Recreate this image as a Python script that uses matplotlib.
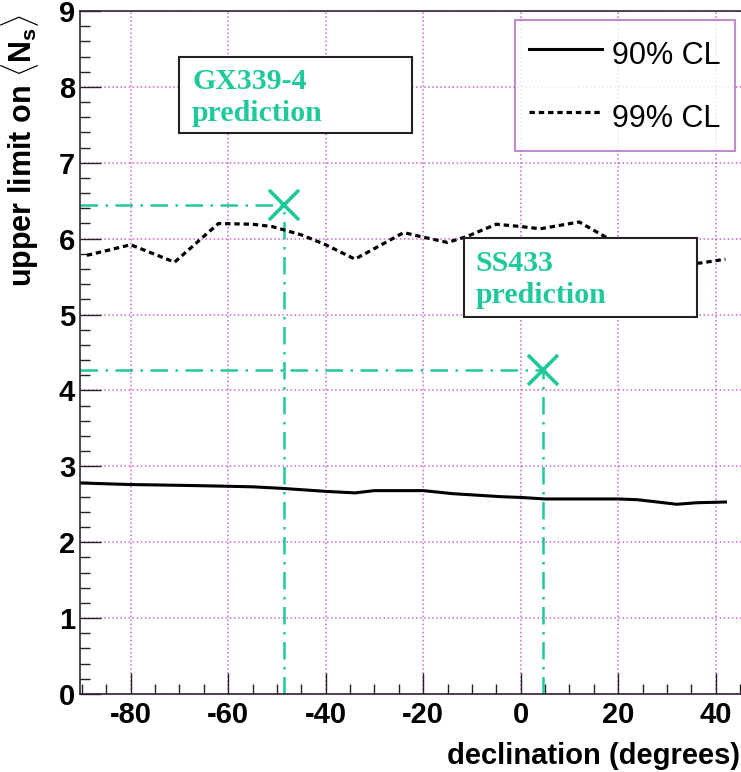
import matplotlib
matplotlib.use("Agg")
import matplotlib.pyplot as plt
from matplotlib.ticker import MultipleLocator
from matplotlib.patches import Rectangle

plt.rcParams["axes.unicode_minus"] = False
plt.rcParams["mathtext.fontset"] = "custom"
plt.rcParams["mathtext.rm"] = "Liberation Sans"
plt.rcParams["mathtext.bf"] = "Liberation Sans:bold"

# upper limits vs declination
decl_90 = [-90, -80, -70, -62, -55, -49, -40, -34, -30, -20, -14, -4, 0, 5, 12, 20, 24, 28, 32, 36, 42]
ul_90 = [2.78, 2.76, 2.75, 2.74, 2.73, 2.71, 2.67, 2.65, 2.68, 2.68, 2.64, 2.60, 2.59, 2.57, 2.57, 2.57,
         2.56, 2.53, 2.50, 2.52, 2.53]

decl_99 = [-89, -80, -71, -62, -55, -51, -45, -40, -34, -24, -20, -15, -11, -5, 0, 4, 12, 18, 22, 28, 33, 37, 42]
ul_99 = [5.78, 5.92, 5.69, 6.20, 6.19, 6.16, 6.05, 5.92, 5.73, 6.08, 6.02, 5.95, 6.03, 6.19, 6.16, 6.13,
         6.22, 6.00, 5.85, 5.72, 5.66, 5.68, 5.73]

# source predictions
src_names = ["GX339-4", "SS433"]
src_decl = [-48.6, 4.6]
src_pred = [6.45, 4.27]

teal = "#1fc99b"
grid_col = "#cc66cc"

fig = plt.figure(figsize=(7.41, 7.72), dpi=100)
ax = fig.add_axes([80 / 741, 78 / 772, 667.4 / 741, 683 / 772])

ax.plot(decl_90, ul_90, color="black", lw=2.2, label="90% CL", zorder=3)
ax.plot(decl_99, ul_99, color="black", lw=2.3, linestyle=(0, (1.7, 1.2)), label="99% CL", zorder=3)

for d, p in zip(src_decl, src_pred):
    ax.plot([-90.4, d], [p, p], color=teal, lw=1.8, linestyle=(0, (7, 3, 1, 3)), zorder=2)
    ax.plot([d, d], [0, p], color=teal, lw=1.8, linestyle=(0, (7, 3, 1, 3)), zorder=2)
    ax.plot(d, p, marker="x", color=teal, markersize=22, mew=2.6, zorder=4)

ax.set_xlim(-90.4, 46.5)
ax.set_ylim(0, 9)
ax.xaxis.set_major_locator(MultipleLocator(20))
ax.xaxis.set_minor_locator(MultipleLocator(5))
ax.yaxis.set_major_locator(MultipleLocator(1))
ax.yaxis.set_minor_locator(MultipleLocator(0.2))
ax.grid(True, which="major", color=grid_col, linestyle=":", lw=1.1)
ax.tick_params(axis="both", which="both", direction="in", colors="#222222")
ax.tick_params(axis="both", which="major", length=15, width=1)
ax.tick_params(axis="both", which="minor", length=7.5, width=1)
ax.tick_params(axis="x", which="major", pad=5)
ax.tick_params(axis="y", which="major", pad=3.5)
for lab in ax.get_xticklabels() + ax.get_yticklabels():
    lab.set_fontfamily("Liberation Sans")
    lab.set_fontweight("bold")
    lab.set_fontsize(21)
    lab.set_color("black")
for sp in ax.spines.values():
    sp.set_color("#332233")
    sp.set_linewidth(1.2)

ax.set_xlabel("declination (degrees)", fontsize=21, family="Liberation Sans", fontweight="bold", loc="right")
ax.xaxis.set_label_coords(0.989, -0.070)
ax.set_ylabel(r"upper limit on $\langle \mathbf{N}_\mathbf{s} \rangle$", fontsize=22,
              family="Liberation Sans", fontweight="bold", loc="top")
ax.yaxis.set_label_coords(-0.058, 0.996)

leg = ax.legend(loc="upper right", bbox_to_anchor=(0.981, 0.987), prop={"family": "Liberation Sans", "size": 22},
                frameon=True, fancybox=False, handlelength=2.4, handleheight=1.64, labelspacing=0.76,
                borderpad=0.45, handletextpad=0.33, borderaxespad=0)
leg.get_frame().set_edgecolor("#b070c0")
leg.get_frame().set_linewidth(1.5)

# prediction boxes
boxes = [(0.1483, 0.821, 0.3492, 0.1113, 0.168, 0.9165),
         (0.5754, 0.552, 0.3491, 0.1156, 0.593, 0.650)]
for name, (x0, y0, w, h, tx, ty) in zip(src_names, boxes):
    ax.add_patch(Rectangle((x0, y0), w, h, transform=ax.transAxes, facecolor="white",
                           edgecolor="#222222", lw=1.5, zorder=5))
    ax.text(tx, ty, name + "\nprediction", transform=ax.transAxes, color=teal, fontsize=21.5,
            family="Liberation Serif", fontweight="bold", va="top", ha="left", linespacing=1.22, zorder=6)

fig.savefig("out.png", dpi=100)
